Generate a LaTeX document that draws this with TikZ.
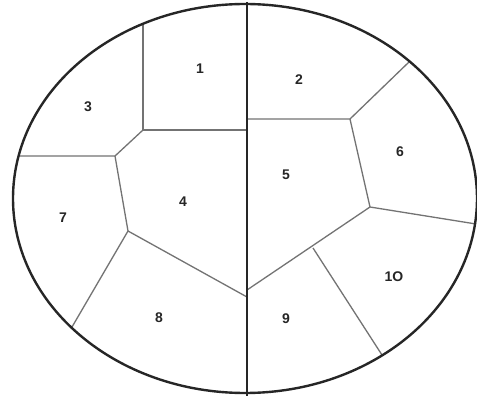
\documentclass[tikz,border=0pt]{standalone}
\usepackage{fontspec}
\setmainfont{Liberation Sans}
\begin{document}
\begin{tikzpicture}[x=1pt,y=-1pt,
  outer/.style={line width=2.4pt, black!85},
  inner/.style={line width=1.3pt, black!55},
  lbl/.style={font=\bfseries\fontsize{14}{14}\selectfont, text=black!85}]
\useasboundingbox (0,0) rectangle (477,398);
\clip (0,0) rectangle (477,398);
\fill[white] (0,0) rectangle (477,398);
% junction coordinates
\coordinate (a1) at (143,24);
\coordinate (a2) at (143,130);
\coordinate (a3) at (115,156);
\coordinate (a4) at (18,156);
\coordinate (a5) at (128,231);
\coordinate (a6) at (72,327);
\coordinate (c1) at (247,130);
\coordinate (c2) at (247,297);
\coordinate (b1) at (247,119);
\coordinate (b2) at (350,119);
\coordinate (b3) at (409,62);
\coordinate (b4) at (370,207);
\coordinate (b5) at (476,224);
\coordinate (b6) at (247,290);
\coordinate (b7) at (313,248);
\coordinate (b8) at (382,355);
\coordinate (top) at (247,2);
\coordinate (bot) at (247,396);
% inner boundaries
\draw[inner] (a1) -- (a2) -- (c1);
\draw[inner] (a2) -- (a3) -- (a4);
\draw[inner] (a3) -- (a5) -- (c2);
\draw[inner] (a5) -- (a6);
\draw[inner] (b1) -- (b2) -- (b3);
\draw[inner] (b2) -- (b4) -- (b5);
\draw[inner] (b4) -- (b6);
\draw[inner] (b7) -- (b8);
% centre line and outline
\draw[outer] (top) -- (bot);
\draw[outer] (245,198.5) ellipse [x radius=232, y radius=194.5];
% labels
\node[lbl] (n1) at (200,69) {1};
\node[lbl] (n2) at (299,80) {2};
\node[lbl] (n3) at (88,107) {3};
\node[lbl] (n4) at (183,202) {4};
\node[lbl] (n5) at (286,175) {5};
\node[lbl] (n6) at (400,152) {6};
\node[lbl] (n7) at (63,218) {7};
\node[lbl] (n8) at (159,318) {8};
\node[lbl] (n9) at (286,319) {9};
\node[lbl] (n10) at (394,277) {1O};
\end{tikzpicture}
\end{document}
